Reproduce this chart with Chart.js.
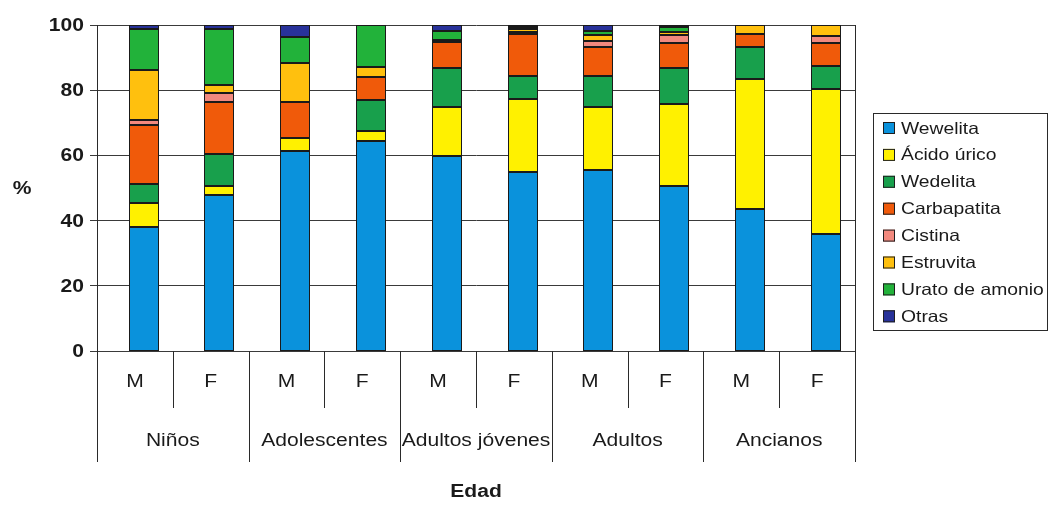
<!DOCTYPE html>
<html>
<head>
<meta charset="utf-8">
<script src="https://cdn.jsdelivr.net/npm/chart.js@4.4.0/dist/chart.umd.min.js"></script>
<style>
  body { margin: 0; background: #fff; }
  #wrap { width: 1050px; height: 509px; }
</style>
</head>
<body>
<div id="wrap"><canvas id="barChart" width="1050" height="509"></canvas></div>
<script>
var sexos = ["M", "F", "M", "F", "M", "F", "M", "F", "M", "F"];
var grupos = ["Niños", "Adolescentes", "Adultos jóvenes", "Adultos", "Ancianos"];
var yTicks = [0, 20, 40, 60, 80, 100];

var wewelita    = [38, 48, 61.4, 64.4, 59.7, 55, 55.5, 50.5, 43.6, 35.9];
var acidoUrico  = [7.3, 2.6, 4, 3.2, 15.2, 22.2, 19.2, 25.2, 39.8, 44.4];
var wedelita    = [6, 9.9, 0, 9.3, 11.8, 7.2, 9.6, 11.1, 9.7, 7];
var carbapatita = [17.9, 16, 11.1, 7.3, 8, 12.8, 9.1, 7.7, 4.1, 7.2];
var cistina     = [1.6, 2.6, 0, 0, 0.7, 0.5, 1.8, 2.4, 0, 2.1];
var estruvita   = [15.4, 2.6, 11.9, 3, 0, 1, 1.8, 0.8, 2.8, 3.4];
var uratoAmonio = [12.5, 17, 7.8, 12.8, 2.9, 0.8, 1.1, 1.6, 0, 0];
var otras       = [1.3, 1.3, 3.8, 0, 1.7, 0.5, 1.9, 0.7, 0, 0];

var SX = 1.17; // the original text looks horizontally stretched
var INK = '#1a1a1a';

function txt(ctx, s, x, y, align, font) {
    ctx.save();
    ctx.font = font;
    ctx.fillStyle = INK;
    ctx.translate(x, y);
    ctx.scale(SX, 1);
    ctx.textAlign = align;
    ctx.textBaseline = 'middle';
    ctx.fillText(s, 0, 0);
    ctx.restore();
}

function serie(label, data, color) {
    return {
        label: label,
        // empty segments are skipped so they don't leave a black line
        data: data.map(function (v) { return v === 0 ? null : v; }),
        backgroundColor: color,
        borderColor: '#1a1a1a',
        borderWidth: 1,
        borderSkipped: false,
        inflateAmount: 0,
        barThickness: 30
    };
}

// bars sit a little right of the category centre in the original;
// also snap edges to whole pixels so the black outlines stay crisp
var shiftBars = {
    id: 'shiftBars',
    afterDatasetsUpdate: function (chart) {
        var x = chart.scales.x;
        var step = x.getPixelForValue(1) - x.getPixelForValue(0);
        chart.data.datasets.forEach(function (d, i) {
            chart.getDatasetMeta(i).data.forEach(function (bar) {
                bar.x = Math.round(bar.x + step * 0.115);
                bar.y = Math.round(bar.y);
                bar.base = Math.round(bar.base);
            });
        });
    }
};

var decor = {
    id: 'decor',
    afterDraw: function (chart) {
        var ctx = chart.ctx;
        var a = chart.chartArea;
        var x = chart.scales.x;
        var y = chart.scales.y;
        var step = x.getPixelForValue(1) - x.getPixelForValue(0);
        var x0 = x.getPixelForValue(0) - step / 2;

        ctx.save();
        ctx.strokeStyle = '#2a2a2a';
        ctx.lineWidth = 1;
        ctx.beginPath();
        ctx.moveTo(Math.round(a.right) + 0.5, a.top);
        ctx.lineTo(Math.round(a.right) + 0.5, a.bottom);
        for (var i = 0; i <= sexos.length; i++) {
            var bx = Math.round(x0 + i * step) + 0.5;
            ctx.moveTo(bx, a.bottom);
            ctx.lineTo(bx, a.bottom + (i % 2 === 0 ? 111 : 57));
        }
        ctx.stroke();
        ctx.restore();

        sexos.forEach(function (s, i) {
            txt(ctx, s, x.getPixelForValue(i), a.bottom + 31, 'center', '18px "Liberation Sans"');
        });
        grupos.forEach(function (g, i) {
            var cx = (x.getPixelForValue(i * 2) + x.getPixelForValue(i * 2 + 1)) / 2;
            txt(ctx, g, cx, a.bottom + 90, 'center', '18px "Liberation Sans"');
        });
        txt(ctx, 'Edad', (a.left + a.right) / 2, a.bottom + 141, 'center', 'bold 18px "Liberation Sans"');

        yTicks.forEach(function (t) {
            txt(ctx, String(t), a.left - 13, y.getPixelForValue(t) + 1, 'right', 'bold 18px "Liberation Sans"');
        });
        txt(ctx, '%', 22, 189, 'center', 'bold 18px "Liberation Sans"');

        // legend
        ctx.save();
        ctx.strokeStyle = '#2a2a2a';
        ctx.lineWidth = 1;
        ctx.strokeRect(873.5, 113.5, 174, 217);
        chart.data.datasets.forEach(function (d, i) {
            var ly = 128 + i * 26.9;
            ctx.fillStyle = d.backgroundColor;
            ctx.fillRect(883, ly - 6, 12, 12);
            ctx.strokeStyle = '#1e1e1e';
            ctx.strokeRect(883.5, ly - 5.5, 11, 11);
            txt(ctx, d.label, 901, ly + 1, 'left', '16.5px "Liberation Sans"');
        });
        ctx.restore();
    }
};

var ctxB = document.getElementById("barChart").getContext('2d');
var myBarChart = new Chart(ctxB, {
    type: 'bar',
    data: {
        labels: sexos,
        datasets: [
            serie("Wewelita", wewelita, '#0A92DC'),
            serie("Ácido úrico", acidoUrico, '#FFF100'),
            serie("Wedelita", wedelita, '#18A04C'),
            serie("Carbapatita", carbapatita, '#F05A0A'),
            serie("Cistina", cistina, '#F2897E'),
            serie("Estruvita", estruvita, '#FFC00E'),
            serie("Urato de amonio", uratoAmonio, '#22B23A'),
            serie("Otras", otras, '#28329A')
        ]
    },
    options: {
        responsive: false,
        animation: false,
        layout: { padding: { left: 0, top: 25, right: 195, bottom: 0 } },
        plugins: {
            legend: { display: false },
            tooltip: { enabled: false }
        },
        scales: {
            x: {
                stacked: true,
                ticks: { display: false },
                grid: { display: false },
                border: { display: false },
                afterFit: function (s) { s.height = 158; }
            },
            y: {
                stacked: true,
                min: 0,
                max: 100,
                ticks: { display: false, stepSize: 20 },
                grid: { color: '#3a3a3a', lineWidth: 1, drawTicks: true, tickLength: 7 },
                border: { display: true, color: '#2a2a2a', width: 1 },
                afterFit: function (s) { s.width = 97; }
            }
        }
    },
    plugins: [shiftBars, decor]
});
</script>
</body>
</html>
